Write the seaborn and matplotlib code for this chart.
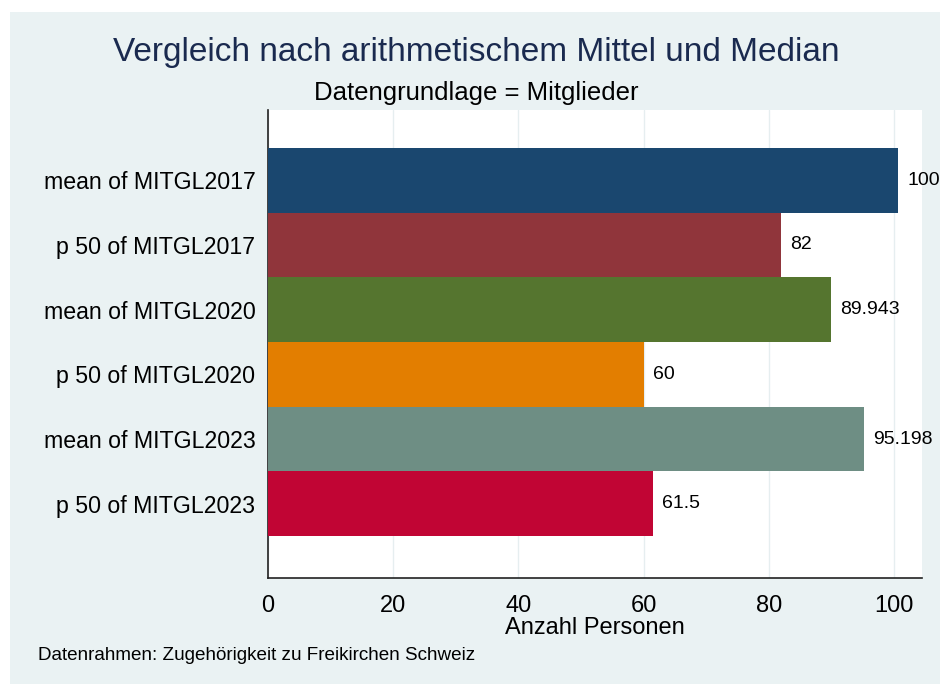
import pandas as pd
import matplotlib.pyplot as plt
import seaborn as sns
from matplotlib.patches import Rectangle

sns.set_theme(style="white")
plt.rcParams['font.family'] = ['Liberation Sans', 'DejaVu Sans']
plt.rcParams['text.color'] = 'black'
plt.rcParams['axes.labelcolor'] = 'black'
plt.rcParams['xtick.color'] = 'black'
plt.rcParams['ytick.color'] = 'black'

# Daten
kategorien = ['mean of MITGL2017', 'p 50 of MITGL2017',
              'mean of MITGL2020', 'p 50 of MITGL2020',
              'mean of MITGL2023', 'p 50 of MITGL2023']
werte = [100.66, 82, 89.943, 60, 95.198, 61.5]
beschriftung = ['100', '82', '89.943', '60', '95.198', '61.5']
farben = ['#1a476f', '#90353b', '#55752f', '#e37e00', '#6e8e84', '#c10534']
x_ticks = [0, 20, 40, 60, 80, 100]

df = pd.DataFrame({'kategorie': kategorien, 'wert': werte})

bg = '#eaf2f3'
fig = plt.figure(figsize=(9.4, 6.84), dpi=100, facecolor='white')
fig.patches.append(Rectangle((10 / 940, 0), 1, 1 - 12 / 684, transform=fig.transFigure,
                             facecolor=bg, edgecolor='none', zorder=-10))

ax = fig.add_axes([268 / 940, 1 - 578 / 684, (922 - 268) / 940, (578 - 110) / 684])
ax.set_facecolor('white')

sns.barplot(data=df, y='kategorie', x='wert', hue='kategorie', palette=farben,
            saturation=1, orient='h', width=1.0, legend=False, ax=ax,
            edgecolor='none', zorder=3)

# Wertebeschriftung rechts neben den Balken
for i, (w, t) in enumerate(zip(werte, beschriftung)):
    ax.text(w + 1.5, i, t, va='center', ha='left', fontsize=14, color='black')

ax.set_xlim(0, 104.5)
ax.set_ylim(5.5 + 42 / 64.7, -0.5 - 38 / 64.7)
ax.set_xticks(x_ticks)
ax.set_xticklabels([str(t) for t in x_ticks], fontsize=17)
ax.tick_params(axis='x', direction='out', length=8, width=1, color='#333333', pad=4)
ax.tick_params(axis='y', length=0, labelsize=16.7, pad=9)
ax.xaxis.grid(True, color='#e6eef0', linewidth=1, zorder=0)
ax.set_axisbelow(True)
ax.set_xlabel('Anzahl Personen', fontsize=17, labelpad=0)
ax.set_ylabel('')

for s in ['top', 'right']:
    ax.spines[s].set_visible(False)
for s in ['left', 'bottom']:
    ax.spines[s].set_color('#222222')
    ax.spines[s].set_linewidth(1.2)

fig.text(476 / 940, 1 - 53 / 684, 'Vergleich nach arithmetischem Mittel und Median',
         ha='center', va='center', fontsize=24, color='#1a2a4f')
fig.text(476 / 940, 1 - 93 / 684, 'Datengrundlage = Mitglieder',
         ha='center', va='center', fontsize=18.5, color='black')
fig.text(38 / 940, 1 - 656 / 684, 'Datenrahmen: Zugehörigkeit zu Freikirchen Schweiz',
         ha='left', va='center', fontsize=13.6, color='black')

fig.savefig('out.png', dpi=100, facecolor='white')
